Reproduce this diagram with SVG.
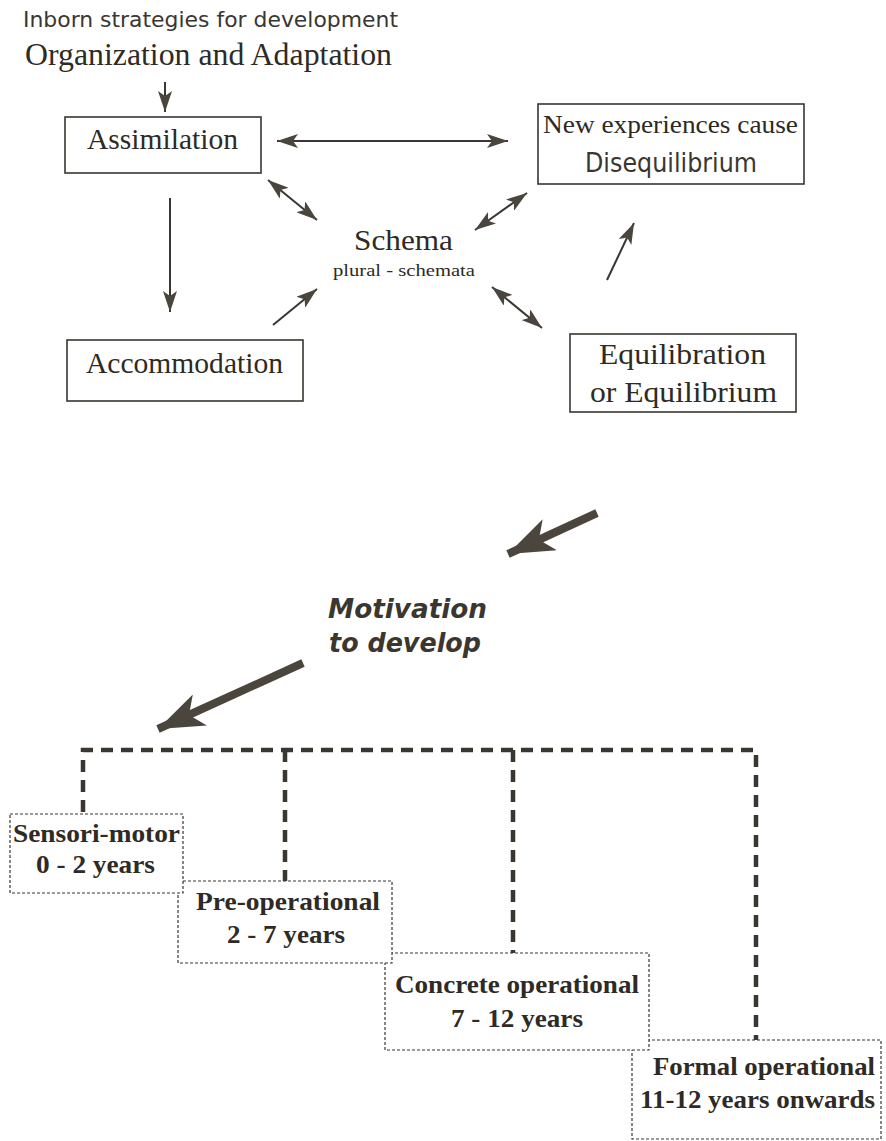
<svg xmlns="http://www.w3.org/2000/svg" width="886" height="1141" viewBox="0 0 886 1141">
<style>
.serif{font-family:"Liberation Serif","Times New Roman",serif;fill:#2e2a25}
.hand{font-family:"DejaVu Sans","Noto Sans",sans-serif;fill:#3a3631}
.motiv{font-family:"DejaVu Sans","Noto Sans",sans-serif;font-weight:bold;font-style:italic;fill:#3b3730}
.bold{font-family:"Liberation Serif","Times New Roman",serif;font-weight:bold;fill:#2e2a25}
.box{fill:#fff;stroke:#3a3631;stroke-width:1.6}
.stage{fill:#fff;stroke:#3a3631;stroke-width:1.2;stroke-dasharray:3 2}
.thin{stroke:#3a3631;stroke-width:2;fill:none}
.big{stroke:#4a453d;stroke-width:8;fill:none}
.dash{stroke:#3a3631;stroke-width:4.5;fill:none;stroke-dasharray:12 8}
</style>
<defs>
<marker id="ah" markerUnits="userSpaceOnUse" markerWidth="24" markerHeight="14" refX="21" refY="7" orient="auto-start-reverse">
<path d="M0,0 L21,7 L0,14 L5,7 z" fill="#4a453d"/>
</marker>
<marker id="bh" markerUnits="userSpaceOnUse" markerWidth="50" markerHeight="34" refX="46" refY="17" orient="auto">
<path d="M0,0 L46,17 L0,34 L12,17 z" fill="#4a453d"/>
</marker>
</defs>

<g id="title">
<text class="hand" x="23" y="27" font-size="22" textLength="375" lengthAdjust="spacingAndGlyphs">Inborn strategies for development</text>
<text class="serif" x="25" y="65" font-size="31" textLength="367" lengthAdjust="spacingAndGlyphs">Organization and  Adaptation</text>
</g>

<g id="assimilation">
<rect class="box" x="65" y="117" width="196" height="56"/>
<text class="serif" x="87" y="149" font-size="29" textLength="151" lengthAdjust="spacingAndGlyphs">Assimilation</text>
</g>

<g id="new-experiences">
<rect class="box" x="538" y="104" width="266" height="80"/>
<text class="serif" x="543" y="133" font-size="26" textLength="255" lengthAdjust="spacingAndGlyphs">New experiences cause</text>
<text class="hand" x="585" y="172" font-size="26" textLength="172" lengthAdjust="spacingAndGlyphs">Disequilibrium</text>
</g>

<g id="schema">
<text class="serif" x="354" y="250" font-size="30" textLength="99" lengthAdjust="spacingAndGlyphs">Schema</text>
<text class="serif" x="333" y="276" font-size="16" textLength="142" lengthAdjust="spacingAndGlyphs">plural - schemata</text>
</g>

<g id="accommodation">
<rect class="box" x="67" y="340" width="236" height="61"/>
<text class="serif" x="86" y="373" font-size="29" textLength="197" lengthAdjust="spacingAndGlyphs">Accommodation</text>
</g>

<g id="equilibration">
<rect class="box" x="570" y="334" width="226" height="78"/>
<text class="serif" x="599" y="364" font-size="30" textLength="167" lengthAdjust="spacingAndGlyphs">Equilibration</text>
<text class="serif" x="590" y="402" font-size="30" textLength="187" lengthAdjust="spacingAndGlyphs">or Equilibrium</text>
</g>

<g id="motivation">
<text class="motiv" x="328" y="618" font-size="27" textLength="159" lengthAdjust="spacingAndGlyphs">Motivation</text>
<text class="motiv" x="329" y="652" font-size="27" textLength="152" lengthAdjust="spacingAndGlyphs">to develop</text>
</g>

<g id="stage-formal">
<rect class="stage" x="632" y="1040" width="249" height="99"/>
<text class="bold" x="653" y="1075" font-size="25" textLength="222" lengthAdjust="spacingAndGlyphs">Formal operational</text>
<text class="bold" x="640" y="1108" font-size="25" textLength="235" lengthAdjust="spacingAndGlyphs">11-12 years onwards</text>
</g>
<g id="stage-concrete">
<rect class="stage" x="385" y="953" width="264" height="97"/>
<text class="bold" x="395" y="993" font-size="25" textLength="244" lengthAdjust="spacingAndGlyphs">Concrete operational</text>
<text class="bold" x="451" y="1027" font-size="25" textLength="132" lengthAdjust="spacingAndGlyphs">7 - 12 years</text>
</g>
<g id="stage-pre">
<rect class="stage" x="178" y="881" width="214" height="82"/>
<text class="bold" x="196" y="910" font-size="25" textLength="184" lengthAdjust="spacingAndGlyphs">Pre-operational</text>
<text class="bold" x="227" y="943" font-size="25" textLength="118" lengthAdjust="spacingAndGlyphs">2 - 7 years</text>
</g>
<g id="stage-sensori">
<rect class="stage" x="10" y="814" width="173" height="79"/>
<text class="bold" x="13" y="842" font-size="25" textLength="167" lengthAdjust="spacingAndGlyphs">Sensori-motor</text>
<text class="bold" x="36" y="873" font-size="25" textLength="119" lengthAdjust="spacingAndGlyphs">0 - 2 years</text>
</g>

<g id="connectors">
<line class="thin" x1="165" y1="82" x2="165" y2="112" marker-end="url(#ah)"/>
<line class="thin" x1="277" y1="141" x2="508" y2="141" marker-start="url(#ah)" marker-end="url(#ah)"/>
<line class="thin" x1="268" y1="180" x2="317" y2="220" marker-start="url(#ah)" marker-end="url(#ah)"/>
<line class="thin" x1="475" y1="230" x2="527" y2="193" marker-start="url(#ah)" marker-end="url(#ah)"/>
<line class="thin" x1="170" y1="198" x2="170" y2="312" marker-end="url(#ah)"/>
<line class="thin" x1="273" y1="325" x2="317" y2="289" marker-end="url(#ah)"/>
<line class="thin" x1="492" y1="287" x2="542" y2="328" marker-start="url(#ah)" marker-end="url(#ah)"/>
<line class="thin" x1="607" y1="280" x2="634" y2="223" marker-end="url(#ah)"/>
<line class="big" x1="597" y1="513" x2="508" y2="554" marker-end="url(#bh)"/>
<line class="big" x1="303" y1="663" x2="158" y2="729" marker-end="url(#bh)"/>
<path class="dash" d="M83,812 L83,750 L756,750 L756,1040"/>
<path class="dash" d="M285,750 L285,881"/>
<path class="dash" d="M513,750 L513,953"/>
</g>
</svg>
